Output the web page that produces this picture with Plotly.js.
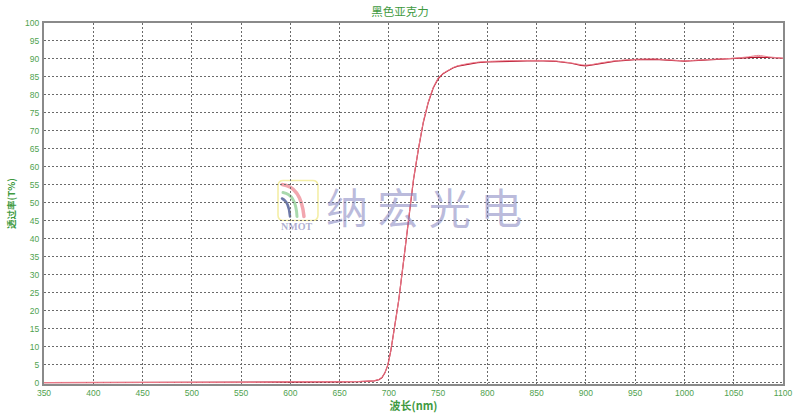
<!DOCTYPE html>
<html>
<head>
<meta charset="utf-8">
<script src="https://cdn.plot.ly/plotly-3.0.1.min.js"></script>
<style>html,body{margin:0;padding:0;background:#fff;}#chart{width:800px;height:413px;}</style>
</head>
<body>
<div id="chart"></div>
<script>
// Wavelength (nm)
var wavelength = [350, 400, 450, 500, 550, 580, 600, 650, 670, 680, 685, 690, 693, 696, 699, 702, 705, 710, 715, 720, 725, 730, 735, 740, 745, 750, 755, 760, 765, 770, 780, 790, 800, 820, 850, 870, 885, 895, 900, 905, 915, 930, 950, 970, 1000, 1020, 1050, 1065, 1075, 1085, 1100];
// Transmittance (%) - light curve
var transA = [0.0, 0.0, 0.0, 0.0, 0.0, 0.1, 0.25, 0.25, 0.3, 0.4, 0.5, 0.9, 1.5, 2.8, 5, 9, 14, 23, 34, 45.5, 56.5, 65, 72.5, 78, 82, 84.6, 86, 86.8, 87.6, 88.1, 88.7, 89.1, 89.3, 89.5, 89.6, 89.4, 88.9, 88.4, 88.3, 88.4, 88.9, 89.5, 89.9, 90.0, 89.5, 89.8, 90.2, 90.6, 91.0, 90.6, 90.2];
// Transmittance (%) - dark curve
var transB = [0.0, 0.0, 0.0, 0.0, 0.0, 0.05, 0.2, 0.2, 0.25, 0.35, 0.45, 0.8, 1.4, 2.7, 4.9, 8.9, 13.9, 22.9, 33.9, 45.4, 56.4, 64.9, 72.4, 77.9, 81.9, 84.5, 85.9, 86.7, 87.5, 88.0, 88.6, 89.0, 89.2, 89.4, 89.5, 89.3, 88.8, 88.2, 88.1, 88.3, 88.8, 89.4, 89.8, 89.9, 89.4, 89.7, 90.2, 90.4, 90.5, 90.4, 90.2];

var xTicks = [350, 400, 450, 500, 550, 600, 650, 700, 750, 800, 850, 900, 950, 1000, 1050, 1100];
var yTicks = [0, 5, 10, 15, 20, 25, 30, 35, 40, 45, 50, 55, 60, 65, 70, 75, 80, 85, 90, 95, 100];

var green = '#3f9a3f';
var tickFont = {family: 'Liberation Sans, Arial, sans-serif', size: 8.5, color: '#4fa24f'};

var logoSvg = '<svg xmlns="http://www.w3.org/2000/svg" width="42" height="42" viewBox="0 0 42 42">' +
  '<rect x="1" y="1" width="40" height="40" rx="5" ry="5" fill="none" stroke="#f4eea6" stroke-width="1.6"/>' +
  '<path d="M5,5 Q24,7 27,37" fill="none" stroke="#f2a6ae" stroke-width="3.5" stroke-linecap="round"/>' +
  '<path d="M6,13 Q19,15 20,37" fill="none" stroke="#a9d9ad" stroke-width="3" stroke-linecap="round"/>' +
  '<path d="M5,19 Q12,22 13,37" fill="none" stroke="#6d79a8" stroke-width="2.5" stroke-linecap="round"/>' +
  '</svg>';

var traces = [
  {x: wavelength, y: transB, type: 'scatter', mode: 'lines', line: {color: '#b8142c', width: 1.2}, hoverinfo: 'skip'},
  {x: wavelength, y: transA, type: 'scatter', mode: 'lines', line: {color: '#ec7d8c', width: 1, shape: 'spline', smoothing: 0.6}, hoverinfo: 'skip'}
];

var layout = {
  width: 800, height: 413,
  margin: {l: 44, r: 17, t: 23, b: 29},
  paper_bgcolor: '#ffffff', plot_bgcolor: '#ffffff',
  showlegend: false,
  title: {text: '黑色亚克力', x: 0.5, xref: 'container', y: 0.972, yref: 'container', yanchor: 'middle',
          font: {family: 'Noto Sans CJK SC, sans-serif', size: 11.5, color: green}},
  xaxis: {
    range: [350, 1100], tickmode: 'array', tickvals: xTicks, ticktext: xTicks.map(String),
    showgrid: true, gridcolor: '#6a6a6a', gridwidth: 1, griddash: '2px,2px',
    showline: true, linecolor: '#8a8a8a', linewidth: 2, mirror: true, zeroline: false,
    ticks: '', tickfont: tickFont, layer: 'below traces', fixedrange: true,
    title: {text: '<b>波长(nm)</b>', standoff: 0, font: {family: 'Noto Sans CJK SC, sans-serif', size: 11, color: green}}
  },
  yaxis: {
    range: [-0.4, 100], tickmode: 'array', tickvals: yTicks, ticktext: yTicks.map(String),
    showgrid: true, gridcolor: '#6a6a6a', gridwidth: 1, griddash: '2px,2px',
    showline: true, linecolor: '#8a8a8a', linewidth: 2, mirror: true, zeroline: false,
    ticks: '', tickfont: tickFont, layer: 'below traces', fixedrange: true, ticklabelstandoff: 1,
    title: {text: '<b>透过率(T%)</b>', standoff: 8, font: {family: 'Noto Sans CJK SC, sans-serif', size: 9.5, color: green}}
  },
  images: [{
    source: 'data:image/svg+xml;charset=utf-8,' + encodeURIComponent(logoSvg),
    xref: 'paper', yref: 'paper', x: 0.3153, y: 0.5667, sizex: 0.0568, sizey: 0.1167,
    xanchor: 'left', yanchor: 'top', sizing: 'stretch', layer: 'below', opacity: 1
  }],
  annotations: [
    {text: '纳 宏 光 电', xref: 'paper', yref: 'paper', x: 0.514, y: 0.494, xanchor: 'center', yanchor: 'middle',
     showarrow: false, font: {family: 'Noto Sans CJK SC, sans-serif', size: 42, color: 'rgba(120,120,185,0.5)'}},
    {text: '<b>NMOT</b>', xref: 'paper', yref: 'paper', x: 0.342, y: 0.436, xanchor: 'center', yanchor: 'middle',
     showarrow: false, font: {family: 'Liberation Serif, serif', size: 10, color: 'rgba(120,120,180,0.6)'}}
  ]
};

Plotly.newPlot('chart', traces, layout, {staticPlot: true, displayModeBar: false});
</script>
</body>
</html>
